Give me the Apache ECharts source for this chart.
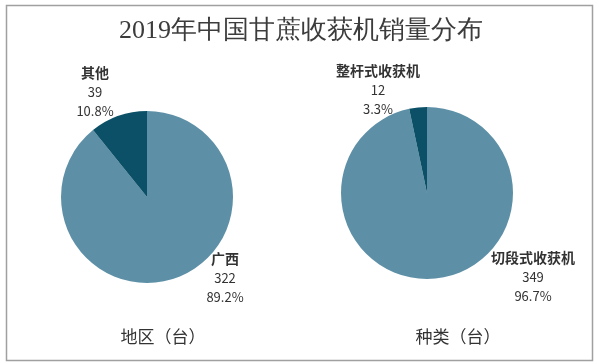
<!DOCTYPE html>
<html>
<head>
<meta charset="utf-8">
<script src="https://cdn.jsdelivr.net/npm/echarts@6/dist/echarts.min.js"></script>
<style>
html,body{margin:0;padding:0;background:#fff;}
#main{width:599px;height:364px;}
</style>
</head>
<body>
<div id="main"></div>
<script>
const titleText = '2019年中国甘蔗收获机销量分布';
const regionNames = ['广西', '其他'];
const regionValues = [322, 39];
const typeNames = ['切段式收获机', '整杆式收获机'];
const typeValues = [349, 12];
const regionCaption = '地区（台）';
const typeCaption = '种类（台）';

const colors = ['#5d90a7', '#0c5067'];
const labelPos = {
  region: [[225, 278], [95, 92]],
  type: [[533, 277], [378, 90]]
};

function mkData(names, values) {
  return names.map((n, i) => ({ name: n, value: values[i], itemStyle: { color: colors[i] } }));
}

const labelCfg = {
  show: true,
  formatter: '{n|{b}}\n{v|{c}}\n{v|{d}%}',
  rich: {
    n: { fontSize: 14, fontWeight: 'bold', color: '#333', lineHeight: 19, fontFamily: 'Noto Sans CJK SC' },
    v: { fontSize: 13, color: '#333', lineHeight: 19, fontFamily: 'Noto Sans CJK SC' }
  },
  align: 'center'
};

const chart = echarts.init(document.getElementById('main'));
chart.setOption({
  backgroundColor: '#ffffff',
  animation: false,
  title: {
    text: titleText,
    left: 296, top: 13, textAlign: 'center',
    textStyle: { fontFamily: 'Liberation Serif, DejaVu Serif, serif', fontSize: 26, fontWeight: 'normal', color: '#3c3c3c' }
  },
  graphic: [
    { type: 'rect', shape: { x: 6.5, y: 5.5, width: 586, height: 355 }, style: { fill: 'none', stroke: '#a0a0a0', lineWidth: 1.5 }, z: 0 },
    { type: 'text', x: 163, y: 337, style: { text: regionCaption, fontSize: 17, fill: '#333', align: 'center', verticalAlign: 'middle', fontFamily: 'Noto Sans CJK SC' } },
    { type: 'text', x: 458, y: 337, style: { text: typeCaption, fontSize: 17, fill: '#333', align: 'center', verticalAlign: 'middle', fontFamily: 'Noto Sans CJK SC' } }
  ],
  series: [
    {
      type: 'pie', center: [147, 197], radius: 86, startAngle: 90, clockwise: true,
      percentPrecision: 1,
      data: mkData(regionNames, regionValues),
      label: labelCfg,
      labelLine: { show: false },
      labelLayout: (p) => ({ x: labelPos.region[p.dataIndex][0], y: labelPos.region[p.dataIndex][1], align: 'center', verticalAlign: 'middle' }),
      emphasis: { disabled: true }
    },
    {
      type: 'pie', center: [427, 193], radius: 86, startAngle: 90, clockwise: true,
      percentPrecision: 1,
      data: mkData(typeNames, typeValues),
      label: labelCfg,
      labelLine: { show: false },
      labelLayout: (p) => ({ x: labelPos.type[p.dataIndex][0], y: labelPos.type[p.dataIndex][1], align: 'center', verticalAlign: 'middle' }),
      emphasis: { disabled: true }
    }
  ]
});
</script>
</body>
</html>
